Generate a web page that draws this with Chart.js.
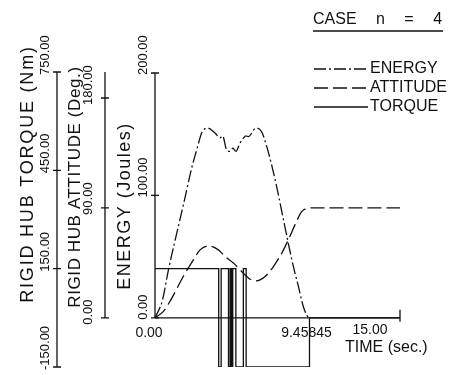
<!DOCTYPE html>
<html>
<head>
<meta charset="utf-8">
<script src="https://cdn.jsdelivr.net/npm/chart.js@4.4.1/dist/chart.umd.min.js"></script>
<style>
  body { margin: 0; background: #fff; }
  #grafico { display: block; }
</style>
</head>
<body>
<canvas id="grafico" width="457" height="375"></canvas>
<script>
// valores
const energyTime = [0, 0.45, 0.82, 1.33, 1.8, 2.24, 2.55, 2.86, 3.2, 3.67, 3.98, 4.14, 4.39, 4.59, 4.76, 4.96, 5.2, 5.41, 5.57, 5.71, 6.18, 6.53, 6.84, 7.14, 7.45, 7.76, 8.16, 8.47, 8.78, 9.08, 9.3, 9.45845]
const energyValues = [0, 14, 39, 69, 96, 122, 137, 151, 155, 151, 147, 148.6, 137, 136, 138.5, 136, 142.6, 146.7, 148.6, 148, 155, 152, 140, 125, 107, 87, 61, 42, 25.6, 9.2, 2, 0]

const attitudeTime = [0, 0.5, 0.97, 1.73, 2.35, 2.76, 3.27, 3.88, 4.29, 4.8, 5.41, 5.82, 6.23, 6.74, 7.25, 7.76, 8.16, 8.57, 8.98, 9.39, 9.6, 15]
const attitudeValues = [0, 5, 14.7, 33.8, 47.5, 55.6, 58.9, 55.6, 50.2, 44.8, 36.6, 31.6, 30.3, 33.8, 42, 52.9, 63.8, 76.1, 87, 89.8, 90, 90]

const torqueTime = [0, 3.90, 4.05, 4.50, 4.60, 4.68, 4.76, 4.95, 5.41, 5.58, 9.45845, 15]
const torqueValues = [150, -150, 150, -150, 150, -150, 150, -150, 150, -150, 0, 0]

const torqueTicks = [-150, 150, 450, 750]
const torqueLabels = ['-150.00', '150.00', '450.00', '750.00']
const attitudeTicks = [0, 90, 180]
const attitudeLabels = ['0.00', '90.00', '180.00']
const energyTicks = [0, 100, 200]
const energyLabels = ['0.00', '100.00', '200.00']
const timeTicks = [0, 9.45845, 15]
const timeLabels = ['0.00', '9.45845', '15.00']

const seriesNames = ['ENERGY', 'ATTITUDE', 'TORQUE']

function pontos(xs, ys) {
  return xs.map((x, i) => ({ x: x, y: ys[i] }))
}

const tinta = '#111'
const fonte = '"Liberation Sans", Arial, sans-serif'
const tracoEnergia = [12, 3, 2, 3]
const tracoAtitude = [14, 5]

function eixoVertical(c, escala, xPos, ticks, labels, labelX, offset, de, ate) {
  c.beginPath()
  c.moveTo(xPos, escala.getPixelForValue(de))
  c.lineTo(xPos, escala.getPixelForValue(ate))
  ticks.forEach(v => {
    const y = escala.getPixelForValue(v)
    c.moveTo(xPos - 4, y)
    c.lineTo(xPos + 4, y)
  })
  c.stroke()
  c.font = '13px ' + fonte
  c.textAlign = 'left'
  c.textBaseline = 'middle'
  ticks.forEach((v, i) => {
    const y = escala.getPixelForValue(v)
    c.save()
    c.translate(labelX, y + offset)
    c.rotate(-Math.PI / 2)
    c.fillText(labels[i], 0, 0)
    c.restore()
  })
}

function textoVertical(c, texto, x, y, tamanho, espaco) {
  c.save()
  c.font = tamanho + 'px ' + fonte
  c.letterSpacing = espaco + 'px'
  c.translate(x, y)
  c.rotate(-Math.PI / 2)
  c.textAlign = 'center'
  c.textBaseline = 'middle'
  c.fillText(texto, 0, 0)
  c.restore()
}

//Eixos, legenda e textos desenhados a partir das escalas
const eixos = {
  id: 'eixos',
  afterDraw(chart) {
    const c = chart.ctx
    const sx = chart.scales.x
    const sT = chart.scales.yTorque
    const sA = chart.scales.yAttitude
    const sE = chart.scales.yEnergy
    c.save()
    c.strokeStyle = tinta
    c.fillStyle = tinta
    c.lineWidth = 1.3

    eixoVertical(c, sT, 57, torqueTicks, torqueLabels, 45, 3, -150, 750)
    eixoVertical(c, sA, 105, attitudeTicks, attitudeLabels, 88, 7, 0, 201.3)
    eixoVertical(c, sE, 155, energyTicks, energyLabels, 143, 2, 0, 200)

    textoVertical(c, 'RIGID HUB TORQUE (Nm)', 28, 174, 18, 1.8)
    textoVertical(c, 'RIGID HUB ATTITUDE (Deg.)', 75, 187, 17, 0.6)
    textoVertical(c, 'ENERGY (Joules)', 125, 206, 18, 1.5)

    // eixo do tempo
    const y0 = sE.getPixelForValue(0)
    c.beginPath()
    c.moveTo(sx.getPixelForValue(0), y0)
    c.lineTo(sx.getPixelForValue(15), y0)
    c.moveTo(sx.getPixelForValue(15), y0 - 8)
    c.lineTo(sx.getPixelForValue(15), y0 + 4)
    c.stroke()
    c.font = '14px ' + fonte
    c.textAlign = 'center'
    c.textBaseline = 'middle'
    const desvioX = [-6, -3, -30]
    const desvioY = [15, 15, 12]
    timeTicks.forEach((v, i) => {
      c.fillText(timeLabels[i], sx.getPixelForValue(v) + desvioX[i], y0 + desvioY[i])
    })
    c.font = '16px ' + fonte
    c.textAlign = 'left'
    c.fillText('TIME (sec.)', 345, 348)

    // titulo
    c.font = '16px ' + fonte
    c.wordSpacing = '15px'
    c.fillText('CASE n = 4', 313, 20)
    c.wordSpacing = '0px'
    c.beginPath()
    c.moveTo(313, 31)
    c.lineTo(443, 31)
    c.stroke()

    // legenda
    const tracos = [tracoEnergia, tracoAtitude, []]
    const ys = [69, 88, 107]
    seriesNames.forEach((nome, i) => {
      c.setLineDash(tracos[i])
      c.beginPath()
      c.moveTo(314, ys[i])
      c.lineTo(368, ys[i])
      c.stroke()
      c.setLineDash([])
      c.fillText(nome, 370, ys[i])
    })
    c.restore()
  }
}

const ctx = document.getElementById('grafico')

const data = {
  datasets: [{
    label: 'ENERGY',
    data: pontos(energyTime, energyValues),
    yAxisID: 'yEnergy',
    borderColor: tinta,
    borderWidth: 1.3,
    borderDash: tracoEnergia,
    cubicInterpolationMode: 'monotone',
    pointRadius: 0
  }, {
    label: 'ATTITUDE',
    data: pontos(attitudeTime, attitudeValues),
    yAxisID: 'yAttitude',
    borderColor: tinta,
    borderWidth: 1.3,
    borderDash: tracoAtitude,
    cubicInterpolationMode: 'monotone',
    pointRadius: 0
  }, {
    label: 'TORQUE',
    data: pontos(torqueTime, torqueValues),
    yAxisID: 'yTorque',
    borderColor: tinta,
    borderWidth: 1.3,
    stepped: 'before',
    pointRadius: 0
  }]
}

const config = {
  type: 'line',
  data: data,
  options: {
    responsive: false,
    animation: false,
    devicePixelRatio: 1,
    layout: { padding: { left: 155, right: 57, top: 72, bottom: 8 } },
    plugins: {
      legend: { display: false },
      tooltip: { enabled: false }
    },
    scales: {
      x: { type: 'linear', min: 0, max: 15, display: false },
      yTorque: { type: 'linear', position: 'left', min: -150, max: 750, display: false },
      yAttitude: { type: 'linear', position: 'left', min: -40.3, max: 201.3, display: false },
      yEnergy: { type: 'linear', position: 'left', min: -40.2, max: 200.8, display: false }
    }
  },
  plugins: [eixos]
}

const grafico = new Chart(ctx, config)
</script>
</body>
</html>
